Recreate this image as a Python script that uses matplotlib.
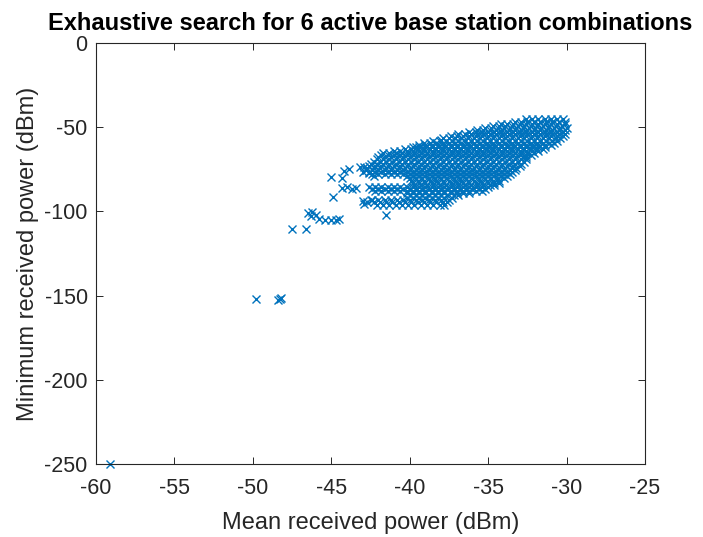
import matplotlib
matplotlib.use("Agg")
import matplotlib.pyplot as plt

plt.rcParams['font.family'] = ['Liberation Sans', 'DejaVu Sans']
plt.rcParams['axes.unicode_minus'] = False

# isolated combinations (mean dBm, min dBm)
outlier_x = [-59.1, -49.8, -48.3, -48.2, -48.4, -47.5, -46.6,
             -46.5, -46.2, -46.0, -46.3, -45.8, -45.4, -45.0, -44.7, -44.5,
             -41.5, -44.9,
             -43.0, -42.7, -42.9, -42.5,
             -44.3, -44.0, -43.7, -43.4,
             -45.0, -44.3, -44.2, -43.9,
             -43.2, -42.9, -42.8, -43.0, -42.6, -42.3,
             -39.6, -38.0]
outlier_y = [-250, -152, -152, -151.5, -152.5, -110.5, -110.5,
             -101, -100.5, -102, -103, -104.5, -105, -105, -105, -104.5,
             -102, -91.7,
             -94, -94.5, -95.5, -93.5,
             -86, -85.5, -86.5, -86,
             -79.5, -80.3, -76.0, -75.0,
             -74, -73.5, -75.5, -76.5, -77.5, -79,
             -61.8, -57.5]

# dense part, read row by row
row_y = [-45.5, -46.75, -48, -49.25, -50.5, -51.75, -53, -54.25, -55.5, -56.75,
         -58, -59.25, -60.5, -61.75, -63, -64.25, -65.5, -66.75, -68, -69.25,
         -70.5, -71.75, -73, -74.25, -75.5, -76.75, -78, -79.25, -80.5, -81.75,
         -83, -84.25, -85.5, -86.75, -88, -89.25, -90.5, -92, -93.5, -94.75, -96]
row_x = [
    [-32.6, -32.2, -31.8, -31.4, -31.0, -30.6, -30.2],
    [-33.3, -32.9, -32.5, -32.1, -31.7, -31.3, -30.9, -30.5, -30.1],
    [-34.2, -33.8, -33.4, -33.0, -32.6, -32.2, -31.8, -31.4, -31.0, -30.6, -30.1],
    [-34.7, -34.3, -33.9, -33.5, -33.1, -32.7, -32.3, -31.9, -31.5, -31.1, -30.7, -30.3],
    [-35.2, -34.8, -34.4, -34.0, -33.6, -33.2, -32.8, -32.4, -32.0, -31.6, -31.2,
     -30.8, -30.4, -30.0],
    [-35.7, -35.3, -34.9, -34.5, -34.1, -33.7, -33.3, -32.9, -32.5, -32.1, -31.7,
     -31.3, -30.9, -30.5, -30.1],
    [-36.2, -35.8, -35.4, -35.0, -34.6, -34.2, -33.8, -33.4, -33.0, -32.6, -32.2,
     -31.8, -31.4, -31.0, -30.6, -30.2],
    [-36.9, -36.5, -36.1, -35.7, -35.3, -34.9, -34.5, -34.1, -33.7, -33.3, -32.9,
     -32.5, -32.1, -31.7, -31.3, -30.9, -30.5, -30.1],
    [-37.4, -37.0, -36.6, -36.2, -35.8, -35.4, -35.0, -34.6, -34.2, -33.8, -33.4,
     -33.0, -32.6, -32.2, -31.8, -31.4, -31.0, -30.6, -30.2],
    [-37.9, -37.5, -37.1, -36.7, -36.3, -35.9, -35.5, -35.1, -34.7, -34.3, -33.9,
     -33.5, -33.1, -32.7, -32.3, -31.9, -31.5, -31.1, -30.7, -30.4],
    [-38.5, -38.1, -37.7, -37.3, -36.9, -36.5, -36.1, -35.7, -35.3, -34.9, -34.5,
     -34.1, -33.7, -33.3, -32.9, -32.5, -32.1, -31.7, -31.3, -30.9, -30.6],
    [-39.1, -38.7, -38.3, -37.9, -37.5, -37.1, -36.7, -36.3, -35.9, -35.5, -35.1,
     -34.7, -34.3, -33.9, -33.5, -33.1, -32.7, -32.3, -31.9, -31.5, -31.1, -30.8],
    [-39.4, -39.0, -38.6, -38.2, -37.8, -37.4, -37.0, -36.6, -36.2, -35.8, -35.4,
     -35.0, -34.6, -34.2, -33.8, -33.4, -33.0, -32.6, -32.2, -31.8, -31.4, -31.0],
    [-39.8, -39.4, -39.0, -38.6, -38.2, -37.8, -37.4, -37.0, -36.6, -36.2, -35.8,
     -35.4, -35.0, -34.6, -34.2, -33.8, -33.4, -33.0, -32.6, -32.2, -31.8, -31.4],
    [-40.3, -39.9, -39.5, -39.1, -38.7, -38.3, -37.9, -37.5, -37.1, -36.7, -36.3,
     -35.9, -35.5, -35.1, -34.7, -34.3, -33.9, -33.5, -33.1, -32.7, -32.3, -31.9, -31.5],
    [-41.0, -40.6, -40.2, -39.8, -39.4, -39.0, -38.6, -38.2, -37.8, -37.4, -37.0,
     -36.6, -36.2, -35.8, -35.4, -35.0, -34.6, -34.2, -33.8, -33.4, -33.0, -32.6,
     -32.2, -31.8],
    [-41.7, -41.3, -40.9, -40.5, -40.1, -39.7, -39.3, -38.9, -38.5, -38.1, -37.7,
     -37.3, -36.9, -36.5, -36.1, -35.7, -35.3, -34.9, -34.5, -34.1, -33.7, -33.3,
     -32.9, -32.5, -32.1],
    [-41.8, -41.4, -41.0, -40.6, -40.2, -39.8, -39.4, -39.0, -38.6, -38.2, -37.8,
     -37.4, -37.0, -36.6, -36.2, -35.8, -35.4, -35.0, -34.6, -34.2, -33.8, -33.4,
     -33.0, -32.6, -32.3],
    [-42.0, -41.6, -41.2, -40.8, -40.4, -40.0, -39.6, -39.2, -38.8, -38.4, -38.0,
     -37.6, -37.2, -36.8, -36.4, -36.0, -35.6, -35.2, -34.8, -34.4, -34.0, -33.6,
     -33.2, -32.8, -32.6],
    [-42.1, -41.7, -41.3, -40.9, -40.5, -40.1, -39.7, -39.3, -38.9, -38.5, -38.1,
     -37.7, -37.3, -36.9, -36.5, -36.1, -35.7, -35.3, -34.9, -34.5, -34.1, -33.7,
     -33.3, -32.9, -32.6],
    [-42.3, -41.9, -41.5, -41.1, -40.7, -40.3, -39.9, -39.5, -39.1, -38.7, -38.3,
     -37.9, -37.5, -37.1, -36.7, -36.3, -35.9, -35.5, -35.1, -34.7, -34.3, -33.9,
     -33.5, -33.1, -32.7],
    [-42.5, -42.1, -41.7, -41.3, -40.9, -40.5, -40.1, -39.7, -39.3, -38.9, -38.5,
     -38.1, -37.7, -37.3, -36.9, -36.5, -36.1, -35.7, -35.3, -34.9, -34.5, -34.1,
     -33.7, -33.3, -32.9],
    [-42.6, -42.2, -41.8, -41.4, -41.0, -40.6, -40.2, -39.8, -39.4, -39.0, -38.6,
     -38.2, -37.8, -37.4, -37.0, -36.6, -36.2, -35.8, -35.4, -35.0, -34.6, -34.2,
     -33.8, -33.4, -33.0],
    [-42.7, -42.3, -41.9, -41.5, -41.1, -40.7, -40.3, -39.9, -39.5, -39.1, -38.7,
     -38.3, -37.9, -37.5, -37.1, -36.7, -36.3, -35.9, -35.5, -35.1, -34.7, -34.3,
     -33.9, -33.5, -33.2],
    [-42.8, -42.4, -42.0, -41.6, -41.2, -40.8, -40.4, -40.0, -39.6, -39.2, -38.8,
     -38.4, -38.0, -37.6, -37.2, -36.8, -36.4, -36.0, -35.6, -35.2, -34.8, -34.4,
     -34.0, -33.6, -33.3],
    [-42.6, -42.2, -41.8, -41.4, -41.0, -40.6, -40.2, -39.8, -39.4, -39.0, -38.6,
     -38.2, -37.8, -37.4, -37.0, -36.6, -36.2, -35.8, -35.4, -35.0, -34.6, -34.2,
     -33.8, -33.5],
    [-42.4, -42.0, -41.6, -41.2, -40.8, -40.4, -40.0, -39.6, -39.2, -38.8, -38.4,
     -38.0, -37.6, -37.2, -36.8, -36.4, -36.0, -35.6, -35.2, -34.8, -34.4, -34.0, -33.6],
    [-40.2, -39.8, -39.4, -39.0, -38.6, -38.2, -37.8, -37.4, -37.0, -36.6, -36.2,
     -35.8, -35.4, -35.0, -34.6, -34.2, -33.8],
    [-40.0, -39.6, -39.2, -38.8, -38.4, -38.0, -37.6, -37.2, -36.8, -36.4, -36.0,
     -35.6, -35.2, -34.8, -34.4, -34.0],
    [-39.9, -39.5, -39.1, -38.7, -38.3, -37.9, -37.5, -37.1, -36.7, -36.3, -35.9,
     -35.5, -35.1, -34.7, -34.3],
    [-39.8, -39.4, -39.0, -38.6, -38.2, -37.8, -37.4, -37.0, -36.6, -36.2, -35.8,
     -35.4, -35.0, -34.6, -34.3],
    [-39.7, -39.3, -38.9, -38.5, -38.1, -37.7, -37.3, -36.9, -36.5, -36.1, -35.7,
     -35.3, -34.9, -34.6],
    [-42.6, -42.2, -41.8, -41.4, -41.0, -40.6, -40.2, -39.8, -39.4, -39.0, -38.6,
     -38.2, -37.8, -37.4, -37.0, -36.6, -36.2, -35.8, -35.4, -35.0],
    [-42.4, -42.0, -41.6, -41.2, -40.8, -40.4, -40.0, -39.6, -39.2, -38.8, -38.4,
     -38.0, -37.6, -37.2, -36.8, -36.4, -36.0, -35.6, -35.2],
    [-42.2, -41.8, -41.4, -41.0, -40.6, -40.2, -39.8, -39.4, -39.0, -38.6, -38.2,
     -37.8, -37.4, -37.0, -36.6, -36.2, -35.8, -35.4],
    [-40.2, -39.8, -39.4, -39.0, -38.6, -38.2, -37.8, -37.4, -37.0, -36.6, -36.2],
    [-40.0, -39.6, -39.2, -38.8, -38.4, -38.0, -37.6, -37.2, -36.9],
    [-40.2, -39.8, -39.4, -39.0, -38.6, -38.2, -37.8, -37.3],
    [-42.4, -42.0, -41.6, -41.2, -40.8, -40.4, -40.0, -39.6, -39.2, -38.8, -38.4,
     -38.0, -37.5],
    [-42.3, -41.9, -41.5, -41.1, -40.7, -40.3, -39.9, -39.5, -39.1, -38.7, -38.3,
     -37.9, -37.6],
    [-42.1, -41.7, -41.3, -40.9, -40.5, -40.1, -39.7, -39.3, -38.9, -38.5, -38.1, -37.8],
]

xticks = [-60, -55, -50, -45, -40, -35, -30, -25]
yticks = [-250, -200, -150, -100, -50, 0]

mean_pw = list(outlier_x)
min_pw = list(outlier_y)
for yy, xs in zip(row_y, row_x):
    mean_pw += xs
    min_pw += [yy] * len(xs)

fig = plt.figure(figsize=(7.03, 5.37), dpi=100)
ax = fig.add_axes([0.1366, 0.1354, 0.7809, 0.7851])

ax.plot(mean_pw, min_pw, 'x', color='#0072BD', markersize=5.3, markeredgewidth=1.0,
        clip_on=False)

ax.set_xlim(-60, -25)
ax.set_ylim(-250, 0)
ax.set_xticks(xticks)
ax.set_yticks(yticks)
ax.set_xticklabels([str(t) for t in xticks])
ax.set_yticklabels([str(t) for t in yticks])
ax.tick_params(direction='in', top=True, right=True, length=5, width=0.7,
               labelsize=15.5, colors='#262626')
ax.tick_params(axis='x', pad=10)
ax.tick_params(axis='y', pad=6)
for s in ax.spines.values():
    s.set_color('#262626')
    s.set_linewidth(0.8)

ax.set_xlabel('Mean received power (dBm)', fontsize=17, color='#262626', labelpad=9)
ax.set_ylabel('Minimum received power (dBm)', fontsize=17, color='#262626', labelpad=4)
ax.set_title('Exhaustive search for 6 active base station combinations',
             fontsize=17, fontweight='bold', pad=9)

fig.savefig('out.png', dpi=100)
